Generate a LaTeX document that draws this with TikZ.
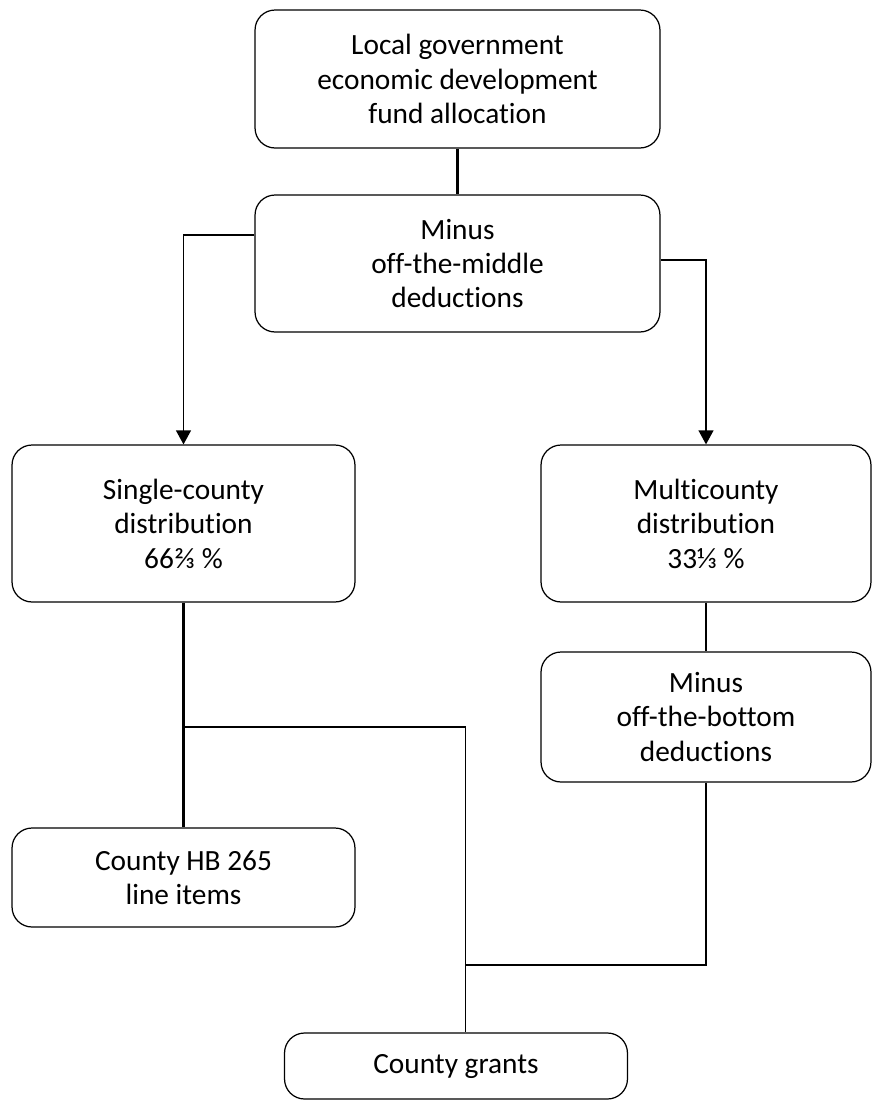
\documentclass[tikz,border=0pt]{standalone}
\usepackage{fontspec}
\setmainfont{Carlito}[Ligatures=NoCommon]
\usetikzlibrary{arrows.meta, positioning}

\begin{document}
\begin{tikzpicture}[x=0.02cm, y=-0.02cm, >={Triangle[length=8pt, width=8.5pt]}, every node/.style={draw, rounded corners=0.4cm, line width=0.7pt, align=center, inner sep=0pt, font=\fontsize{16.7}{19.6}\selectfont}]
      \useasboundingbox (0,0) rectangle (872,1100);
      \node[minimum width=8.1cm, minimum height=2.76cm] (alloc) at (457.5,79) {Local government\\economic development\\fund allocation};
      \node[minimum width=8.1cm, minimum height=2.74cm] (middle) at (457.5,263.5) {Minus\\off-the-middle\\deductions};
      \node[minimum width=6.86cm, minimum height=3.14cm] (single) at (183.5,523.5) {Single-county\\distribution\\66⅔ \%};
      \node[minimum width=6.6cm, minimum height=3.14cm] (multi) at (706,523.5) {Multicounty\\distribution\\33⅓ \%};
      \node[minimum width=6.6cm, minimum height=2.6cm] (bottom) at (706,717) {Minus\\off-the-bottom\\deductions};
      \node[minimum width=6.86cm, minimum height=1.98cm] (lineitems) at (183.5,877.5) {County HB 265\\line items};
      \node[minimum width=6.86cm, minimum height=1.32cm] (grants) at (456,1066) {County grants};
      \coordinate (split) at (183.5,727);
      \coordinate (join) at (465,965);
      \draw[line width=1.4pt] (alloc) -- (middle);
      \draw[->, line width=0.8pt] (middle.172.5) -| (single.north);
      \draw[->, line width=0.8pt] (middle.1) -| (multi.north);
      \draw[line width=1.4pt] (single) -- (lineitems);
      \draw[line width=1.4pt] (multi) -- (bottom);
      \draw[line width=0.8pt] (split) -| (grants.74);
      \draw[line width=0.8pt] (bottom.south) |- (join);
\end{tikzpicture}
\end{document}
